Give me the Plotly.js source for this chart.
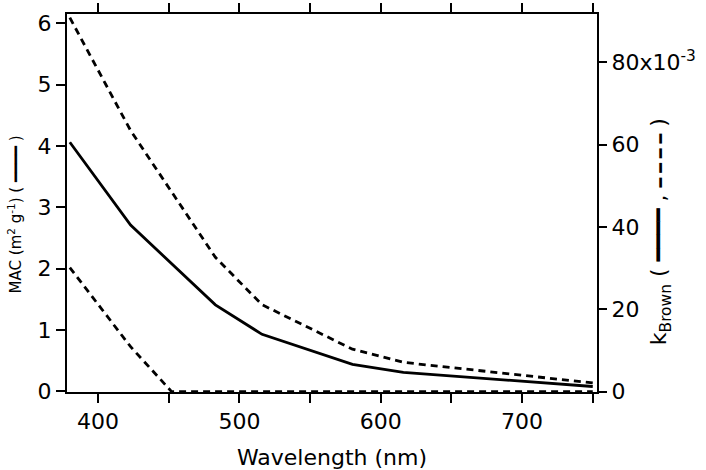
<!DOCTYPE html>
<html>
<head>
<meta charset="utf-8">
<script src="https://cdn.plot.ly/plotly-3.0.1.min.js"></script>
<style>html,body{margin:0;padding:0;background:#fff;}#chart{width:706px;height:470px;}</style>
</head>
<body>
<div id="chart"></div>
<script>
// Wavelengths (nm)
var wavelength = [380, 423, 483, 516, 580, 616, 750];
// MAC (m^2 g^-1), solid line, left axis
var macValues = [4.06, 2.71, 1.41, 0.93, 0.44, 0.31, 0.08];
// k_Brown upper bound (x10^-3), dashed, right axis
var kUpper = [90.8, 63.4, 32.6, 21.1, 10.3, 7.1, 2.1];
// k_Brown lower bound (x10^-3), dashed, right axis
var wavelengthLower = [380, 423, 452, 483, 516, 580, 616, 750];
var kLower = [30.1, 10.9, 0, 0, 0, 0, 0, 0];

var xTicks = [400, 500, 600, 700];
var yTicks = [0, 1, 2, 3, 4, 5, 6];
var y2Ticks = [0, 20, 40, 60, 80];
var y2TickText = ["0", "20", "40", "60", "80x10<sup>-3</sup>"];

var FONT = "DejaVu Sans, Verdana, sans-serif";

var traces = [
  {x: wavelength, y: macValues, type: "scatter", mode: "lines", yaxis: "y",
   line: {color: "#000", width: 2.8}, cliponaxis: false, hoverinfo: "skip"},
  {x: wavelength, y: kUpper, type: "scatter", mode: "lines", yaxis: "y2",
   line: {color: "#000", width: 2.8, dash: "7px,5px"}, cliponaxis: false, hoverinfo: "skip"},
  {x: wavelengthLower, y: kLower, type: "scatter", mode: "lines", yaxis: "y2",
   line: {color: "#000", width: 2.8, dash: "7px,5px"}, cliponaxis: false, hoverinfo: "skip"}
];

var layout = {
  width: 706, height: 470,
  margin: {l: 67, r: 109, t: 14, b: 78},
  paper_bgcolor: "#fff", plot_bgcolor: "#fff",
  showlegend: false,
  font: {family: FONT, size: 22, color: "#000"},
  xaxis: {
    range: [378, 753],
    tickvals: xTicks,
    ticks: "outside", ticklen: 9, tickwidth: 2, tickcolor: "#000",
    minor: {dtick: 50, tick0: 0, ticks: "outside", ticklen: 9, tickwidth: 2, tickcolor: "#000"},
    showline: true, linewidth: 2, linecolor: "#000", mirror: "ticks",
    showgrid: false, zeroline: false,
    tickfont: {family: FONT, size: 22, color: "#000"},
    title: {text: "Wavelength (nm)", font: {family: FONT, size: 22, color: "#000"}, standoff: 16}
  },
  yaxis: {
    range: [-0.01, 6.15],
    tickvals: yTicks,
    ticks: "outside", ticklen: 9, tickwidth: 2, tickcolor: "#000",
    showline: true, linewidth: 2, linecolor: "#000",
    showgrid: false, zeroline: false,
    tickfont: {family: FONT, size: 22, color: "#000"}
  },
  yaxis2: {
    overlaying: "y", side: "right",
    range: [-0.1, 91.7],
    tickvals: y2Ticks, ticktext: y2TickText,
    ticks: "outside", ticklen: 8, tickwidth: 2, tickcolor: "#000",
    showline: true, linewidth: 2, linecolor: "#000",
    showgrid: false, zeroline: false,
    tickfont: {family: FONT, size: 22, color: "#000"}
  },
  annotations: [
    {xref: "paper", yref: "paper", x: -0.098, y: 0.47, xanchor: "center", yanchor: "middle",
     textangle: -90, showarrow: false,
     text: "MAC (m<sup>2</sup> g<sup>-1</sup>) ( ━━━━ )",
     font: {family: FONT, size: 15, color: "#000"}},
    {xref: "paper", yref: "paper", x: 1.119, y: 0.423, xanchor: "center", yanchor: "middle",
     textangle: -90, showarrow: false,
     text: "k<sub>Brown</sub> ( ━━━━ , <span style=\"font-size:16px\">━ ━ ━ ━</span> )",
     font: {family: FONT, size: 22, color: "#000"}}
  ]
};

Plotly.newPlot("chart", traces, layout, {staticPlot: true, displayModeBar: false});
</script>
</body>
</html>
